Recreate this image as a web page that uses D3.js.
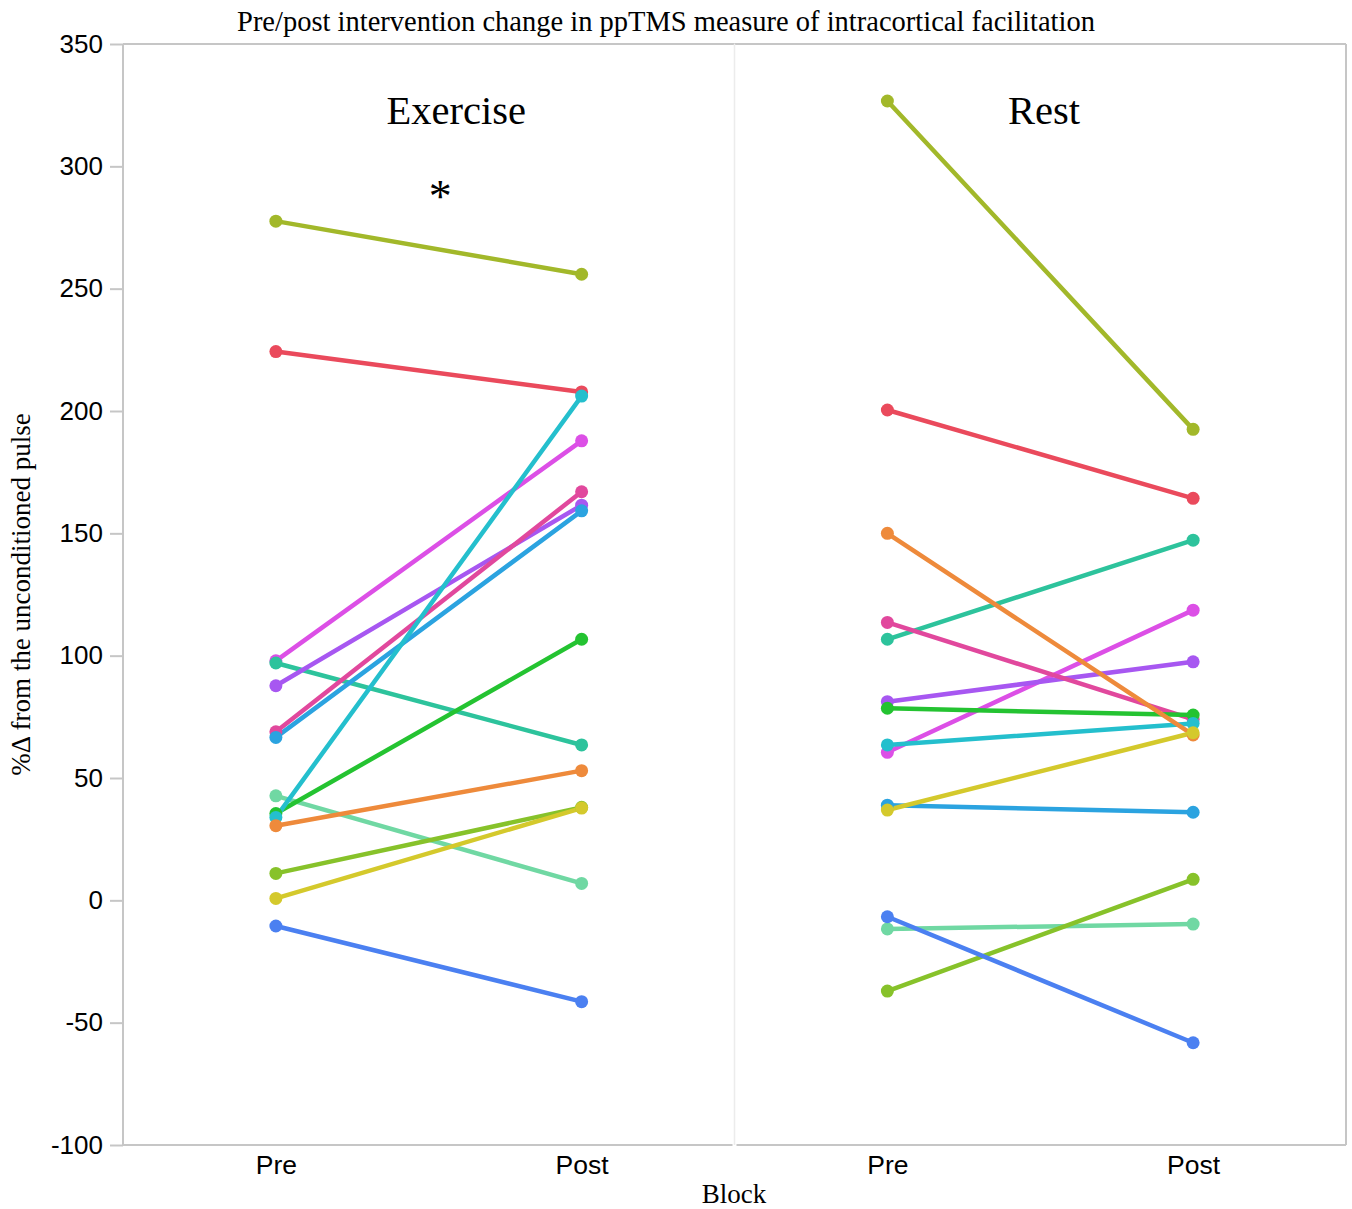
<!DOCTYPE html>
<html>
<head>
<meta charset="utf-8">
<script src="https://cdn.jsdelivr.net/npm/d3@7"></script>
<style>
    body { margin: 0; background: white; }
    .serif { font-family: "Liberation Serif", "Times New Roman", serif; }
    .sans { font-family: "Liberation Sans", Arial, sans-serif; }
</style>
</head>
<body>
<svg id="chart" width="1352" height="1209"></svg>
<script>
// Data
const panels = ["Exercise", "Rest"];
const blocks = ["Pre", "Post"];
const subjectColors = [
    "#a2b82a", "#ea4a5c", "#dc4fe6", "#2dc39c", "#a757f1", "#e1489d", "#2ba3e0",
    "#70d8a3", "#24c331", "#24bfcd", "#ee8a3b", "#87c22a", "#d4c92c", "#4b80f1"
];
const exercisePre  = [277.6, 224.3, 97.9, 97.0, 87.7, 68.9, 66.6, 42.7, 35.5, 33.9, 30.5, 11.0, 0.8, -10.5];
const exercisePost = [255.9, 207.8, 187.8, 63.5, 161.5, 167.0, 159.2, 6.9, 106.7, 206.1, 53.0, 38.0, 37.7, -41.4];
const restPre      = [326.7, 200.4, 60.5, 106.7, 81.2, 113.6, 38.9, -11.7, 78.5, 63.5, 150.0, -37.1, 36.9, -6.7];
const restPost     = [192.5, 164.3, 118.6, 147.2, 97.5, 74.0, 36.0, -9.7, 75.7, 72.3, 67.6, 8.6, 68.5, -58.2];
const yTicks = [-100, -50, 0, 50, 100, 150, 200, 250, 300, 350];

const panelData = {
    "Exercise": { pre: exercisePre, post: exercisePost },
    "Rest": { pre: restPre, post: restPost }
};

const width = 1352;
const height = 1209;
const margin = { top: 44, right: 6, bottom: 64, left: 123 };
const frameColor = "#c6c6c6";

const svg = d3.select("#chart");

const y = d3.scaleLinear()
    .domain([-100, 350])
    .range([height - margin.bottom, margin.top]);

const panelX = d3.scaleBand()
    .domain(panels)
    .range([margin.left, width - margin.right]);

const x = d3.scalePoint()
    .domain(blocks)
    .range([0, panelX.bandwidth()])
    .padding(0.5);

// Title
svg.append("text")
    .attr("class", "serif")
    .attr("x", 666)
    .attr("y", 31)
    .attr("text-anchor", "middle")
    .style("font-size", "28.5px")
    .text("Pre/post intervention change in ppTMS measure of intracortical facilitation");

// Y axis
const yAxis = svg.append("g")
    .attr("transform", `translate(${margin.left},0)`)
    .call(d3.axisLeft(y).tickValues(yTicks).tickFormat(d => String(d)).tickSize(13).tickPadding(7));

yAxis.select(".domain").remove();
yAxis.selectAll(".tick line").attr("stroke", frameColor).attr("stroke-width", 2);
yAxis.selectAll(".tick text")
    .attr("class", "sans")
    .style("font-size", "26px")
    .attr("fill", "#000");

svg.append("text")
    .attr("class", "serif")
    .attr("transform", `translate(30, ${(margin.top + height - margin.bottom) / 2}) rotate(-90)`)
    .attr("text-anchor", "middle")
    .style("font-size", "27px")
    .text("%\u0394 from the unconditioned pulse");

// Panels
panels.forEach((panel, pi) => {
    const g = svg.append("g")
        .attr("transform", `translate(${panelX(panel)},0)`);

    const bw = panelX.bandwidth();

    // Bottom axis
    const xAxis = g.append("g")
        .attr("transform", `translate(0,${y(-100)})`)
        .call(d3.axisBottom(x).tickSize(0).tickPadding(10));

    xAxis.select(".domain").remove();
    xAxis.selectAll(".tick text")
        .attr("class", "sans")
        .style("font-size", "26.5px")
        .attr("fill", "#000");

    g.append("line")
        .attr("x1", pi === 0 ? 0 : 2)
        .attr("x2", pi === 0 ? bw - 2 : bw)
        .attr("y1", y(-100))
        .attr("y2", y(-100))
        .attr("stroke", frameColor)
        .attr("stroke-width", 2);

    // Top line
    g.append("line")
        .attr("x1", 0)
        .attr("x2", bw)
        .attr("y1", y(350))
        .attr("y2", y(350))
        .attr("stroke", frameColor)
        .attr("stroke-width", 2);

    // Left/right borders
    if (pi === 0) {
        g.append("line")
            .attr("x1", 0).attr("x2", 0)
            .attr("y1", y(350)).attr("y2", y(-100))
            .attr("stroke", frameColor)
            .attr("stroke-width", 2);
    }
    else {
        g.append("line")
            .attr("x1", 0).attr("x2", 0)
            .attr("y1", y(350)).attr("y2", y(-100))
            .attr("stroke", "#ececec")
            .attr("stroke-width", 1.5);
        g.append("line")
            .attr("x1", bw).attr("x2", bw)
            .attr("y1", y(350)).attr("y2", y(-100))
            .attr("stroke", frameColor)
            .attr("stroke-width", 2);
    }

    // Lines and points
    const d = panelData[panel];
    const subjects = d.pre.map((v, i) => ({ pre: v, post: d.post[i], color: subjectColors[i] }));

    g.append("g")
        .selectAll("line")
        .data(subjects)
        .join("line")
        .attr("x1", x("Pre"))
        .attr("x2", x("Post"))
        .attr("y1", s => y(s.pre))
        .attr("y2", s => y(s.post))
        .attr("stroke", s => s.color)
        .attr("stroke-width", 4.5)
        .attr("stroke-linecap", "round");

    const dots = [];
    subjects.forEach(s => {
        dots.push({ block: "Pre", value: s.pre, color: s.color });
        dots.push({ block: "Post", value: s.post, color: s.color });
    });

    g.append("g")
        .selectAll("circle")
        .data(dots)
        .join("circle")
        .attr("cx", p => x(p.block))
        .attr("cy", p => y(p.value))
        .attr("r", 6.5)
        .attr("fill", p => p.color);
});

// Panel labels
svg.append("text")
    .attr("class", "serif")
    .attr("x", panelX("Exercise") + panelX.bandwidth() * 0.545)
    .attr("y", 124)
    .attr("text-anchor", "middle")
    .style("font-size", "40.5px")
    .text("Exercise");

svg.append("text")
    .attr("class", "serif")
    .attr("x", panelX("Rest") + panelX.bandwidth() * 0.506)
    .attr("y", 124)
    .attr("text-anchor", "middle")
    .style("font-size", "40.5px")
    .text("Rest");

svg.append("text")
    .attr("class", "serif")
    .attr("x", panelX("Exercise") + panelX.bandwidth() * 0.519)
    .attr("y", 212)
    .attr("text-anchor", "middle")
    .style("font-size", "46px")
    .text("*");

// Block label
svg.append("text")
    .attr("class", "serif")
    .attr("x", 734)
    .attr("y", 1203)
    .attr("text-anchor", "middle")
    .style("font-size", "27px")
    .text("Block");
</script>
</body>
</html>
